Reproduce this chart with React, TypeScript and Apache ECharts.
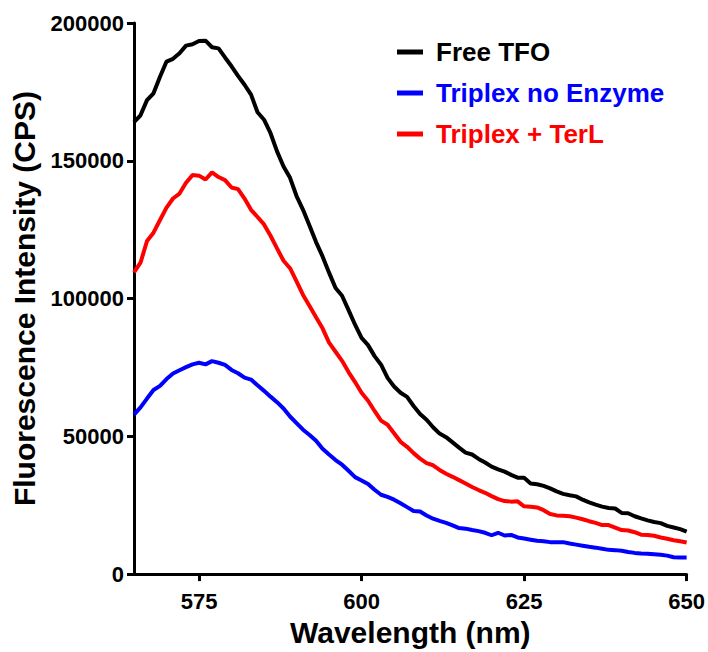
import React, { useEffect, useRef } from "react";
import * as echarts from "echarts";

const wavelengths: number[] = Array.from({ length: 86 }, (_, i) => 565 + i);

const freeTFO: number[] = [
  164000, 166500, 172000, 174500, 180500, 186000, 187000, 189000, 191800, 192300,
  193500, 193600, 191200, 190800, 187500, 184300, 180800, 177600, 174000, 167600,
  164900, 160000, 153400, 147900, 143800, 137200, 132200, 126400, 120500, 115300,
  109400, 103800, 101000, 95800, 90500, 85700, 83100, 79100, 76000, 71200,
  68100, 65800, 64300, 61000, 58100, 56000, 53300, 51000, 49700, 47800,
  45900, 44100, 43400, 41800, 40500, 39000, 38000, 37200, 36000, 35000,
  35000, 32900, 32600, 32000, 31100, 30000, 29100, 28600, 28200, 27000,
  26000, 25200, 24500, 24000, 23800, 22200, 22100, 21000, 20200, 19500,
  18900, 18500, 17500, 16900, 16300, 15400,
];

const triplexNoEnzyme: number[] = [
  57900, 60500, 63700, 66800, 68300, 70800, 72800, 74000, 75100, 76100,
  76700, 76100, 77300, 76700, 75900, 74100, 72900, 71300, 70600, 68500,
  66500, 64400, 62400, 60100, 57200, 54800, 52400, 50500, 48400, 45500,
  43400, 41400, 39700, 37500, 35200, 34000, 32700, 30600, 28800, 28000,
  27000, 25700, 24300, 22900, 22700, 21300, 20100, 19300, 18600, 17700,
  16700, 16500, 16000, 15600, 15000, 14100, 15000, 14000, 14200, 13300,
  12900, 12500, 12100, 11900, 11600, 11600, 11600, 11100, 10700, 10300,
  9900, 9600, 9200, 8800, 8700, 8500, 8000, 7700, 7500, 7400,
  7200, 7000, 6700, 6100, 6000, 6000,
];

const triplexTerL: number[] = [
  109500, 113000, 120900, 123900, 128500, 133000, 136300, 138100, 142000, 144800,
  144600, 143200, 145800, 144100, 143000, 140300, 139700, 136300, 132200, 129600,
  126900, 122800, 118200, 113700, 111000, 106200, 101300, 97300, 93200, 89200,
  84000, 80700, 77400, 73300, 69700, 65800, 62900, 59200, 55700, 54200,
  51100, 48000, 46200, 43900, 41900, 40300, 39500, 37800, 36400, 35300,
  34100, 32900, 31600, 30500, 29500, 28300, 27200, 26500, 26300, 26400,
  24600, 24400, 24200, 23200, 21800, 21300, 21200, 21000, 20500, 19900,
  19200, 18600, 17800, 17800, 16900, 16000, 15800, 15200, 14300, 14200,
  13900, 13300, 12800, 12300, 11900, 11500,
];

const xTicks: number[] = [575, 600, 625, 650];
const seriesNames: string[] = ["Free TFO", "Triplex no Enzyme", "Triplex + TerL"];
const seriesColors: string[] = ["#000000", "#0000ff", "#ff0000"];

const FONT = '"Liberation Sans", Arial, Helvetica, sans-serif';

export default function App() {
  const ref = useRef<HTMLDivElement>(null);

  useEffect(() => {
    if (!ref.current) return;
    const chart = echarts.init(ref.current, null, { renderer: "svg" });
    const values = [freeTFO, triplexNoEnzyme, triplexTerL];
    const series = seriesNames.map((name, i) => ({
      name,
      type: "line" as const,
      symbol: "none",
      data: wavelengths.map((w, j) => [w, values[i][j]]),
      lineStyle: { color: seriesColors[i], width: 4 },
      itemStyle: { color: seriesColors[i] },
      z: 3 - i,
    }));
    chart.setOption({
      animation: false,
      backgroundColor: "#ffffff",
      grid: { left: 134, top: 23, width: 553, height: 553 },
      legend: {
        orient: "vertical",
        left: 392,
        top: 34,
        icon: "rect",
        itemWidth: 26,
        itemHeight: 5,
        itemGap: 15,
        textStyle: {
          fontFamily: FONT,
          fontWeight: "bold",
          fontSize: 26,
          lineHeight: 26,
          padding: [0, 0, 0, 8],
        },
        data: seriesNames.map((name, i) => ({
          name,
          textStyle: { color: seriesColors[i] },
        })),
      },
      xAxis: {
        type: "value",
        min: 565,
        max: 650,
        name: "Wavelength (nm)",
        nameLocation: "middle",
        nameGap: 40,
        nameTextStyle: {
          fontFamily: FONT,
          fontWeight: "bold",
          fontSize: 30,
          color: "#000",
        },
        splitLine: { show: false },
        axisLine: { show: true, lineStyle: { color: "#000", width: 3 } },
        axisTick: {
          show: true,
          length: 7,
          lineStyle: { color: "#000", width: 3 },
          customValues: xTicks,
        },
        axisLabel: {
          customValues: xTicks,
          margin: 16,
          fontFamily: FONT,
          fontWeight: "bold",
          fontSize: 22,
          color: "#000",
        },
      },
      yAxis: {
        type: "value",
        min: 0,
        max: 200000,
        interval: 50000,
        name: "Fluorescence Intensity (CPS)",
        nameLocation: "middle",
        nameGap: 92,
        nameTextStyle: {
          fontFamily: FONT,
          fontWeight: "bold",
          fontSize: 30,
          color: "#000",
        },
        splitLine: { show: false },
        axisLine: { show: true, lineStyle: { color: "#000", width: 3 } },
        axisTick: { show: true, length: 7, lineStyle: { color: "#000", width: 3 } },
        axisLabel: {
          margin: 10,
          fontFamily: FONT,
          fontWeight: "bold",
          fontSize: 22,
          color: "#000",
          formatter: (v: number) => String(v),
        },
      },
      series,
    });
    return () => chart.dispose();
  }, []);

  return (
    <div
      ref={ref}
      style={{ position: "absolute", left: 0, top: 0, width: 708, height: 652 }}
    />
  );
}
